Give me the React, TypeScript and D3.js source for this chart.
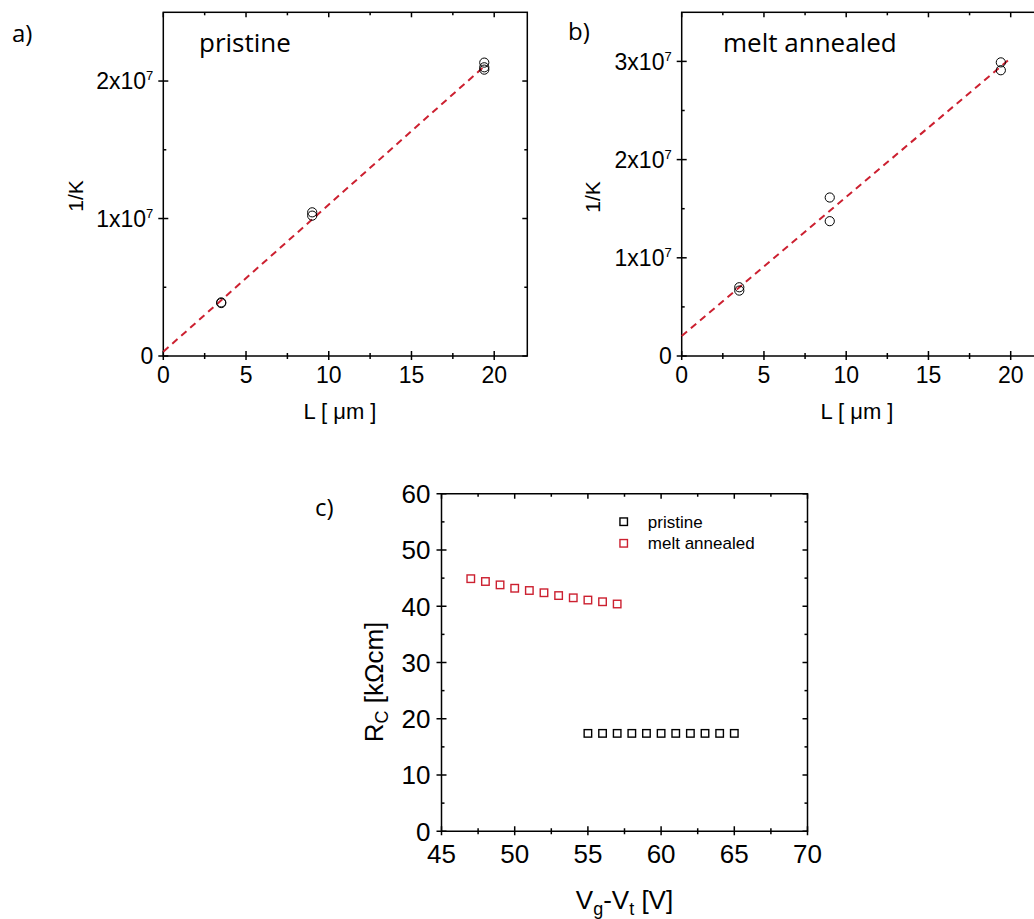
import React, { useEffect, useRef } from 'react';
import * as d3 from 'd3';

// panel a) pristine : 1/K versus channel length
const L_A = [3.5, 3.5, 9, 9, 19.4, 19.4, 19.4];
const K_A = [3.85e6, 3.9e6, 1.021e7, 1.045e7, 2.083e7, 2.1e7, 2.134e7];
const FIT_A = [0, 19.33];
const FIT_A_COEF = [3.1e5, 1.07e6]; // intercept, slope

// panel b) melt annealed
const L_B = [3.5, 3.5, 9, 9, 19.4, 19.4];
const K_B = [6.66e6, 7.0e6, 1.373e7, 1.614e7, 2.91e7, 2.99e7];
const FIT_B = [0, 19.9];
const FIT_B_COEF = [2.04e6, 1.415e6];

// panel c) contact resistance vs Vg-Vt
const VG_MELT = [47, 48, 49, 50, 51, 52, 53, 54, 55, 56, 57];
const RC_MELT = [44.9, 44.4, 43.8, 43.2, 42.8, 42.4, 41.9, 41.5, 41.1, 40.8, 40.4];
const VG_PRIS = [55, 56, 57, 58, 59, 60, 61, 62, 63, 64, 65];
const RC_PRIS = [17.4, 17.4, 17.4, 17.4, 17.4, 17.4, 17.4, 17.4, 17.4, 17.4, 17.4];

const X_TICKS_L = [0, 5, 10, 15, 20];
const Y_TICKS_A = [0, 1e7, 2e7];
const Y_TICKS_B = [0, 1e7, 2e7, 3e7];
const X_TICKS_C = [45, 50, 55, 60, 65, 70];
const Y_TICKS_C = [0, 10, 20, 30, 40, 50, 60];

const ARIAL = '"Liberation Sans", Arial, sans-serif';
const CAL = '"Open Sans", sans-serif';
const RED = '#cc2030';

function frame(g, x, y, xTicks, yTicks, xMinor, yMinor, fs, yLabelFmt) {
  const [x0, x1] = x.range();
  const [y0, y1] = y.range();
  g.append('rect')
    .attr('x', x0).attr('y', y1)
    .attr('width', x1 - x0).attr('height', y0 - y1)
    .attr('fill', 'none').attr('stroke', '#000').attr('stroke-width', 1.5);

  const tick = (x1_, y1_, x2_, y2_) =>
    g.append('line').attr('x1', x1_).attr('y1', y1_).attr('x2', x2_).attr('y2', y2_)
      .attr('stroke', '#000').attr('stroke-width', 1.5);

  xTicks.forEach(v => {
    const px = x(v);
    tick(px, y0 + 4, px, y0 - 5);
    tick(px, y1, px, y1 + 5);
  });
  xMinor.forEach(v => {
    const px = x(v);
    tick(px, y0 + 3, px, y0 - 3);
    tick(px, y1, px, y1 + 3);
  });
  yTicks.forEach(v => {
    const py = y(v);
    tick(x0 - 5, py, x0 + 5, py);
    tick(x1, py, x1 - 5, py);
  });
  yMinor.forEach(v => {
    const py = y(v);
    tick(x0, py, x0 + 3, py);
    tick(x1, py, x1 - 3, py);
  });

  g.selectAll(null).data(xTicks).enter().append('text')
    .attr('x', d => x(d))
    .attr('y', y0 + fs.xOff)
    .attr('text-anchor', 'middle')
    .attr('font-family', ARIAL)
    .attr('font-size', fs.size)
    .text(d => d);

  yTicks.forEach(v => {
    const t = g.append('text')
      .attr('x', x0 - fs.yGap)
      .attr('y', y(v) + fs.size * 0.36)
      .attr('text-anchor', 'end')
      .attr('font-family', ARIAL)
      .attr('font-size', fs.size);
    yLabelFmt(t, v);
  });
}

function sciLabel(t, v) {
  if (v === 0) { t.text('0'); return; }
  const m = Math.round(v / 1e7);
  t.append('tspan').text(m + 'x10');
  t.append('tspan').attr('font-size', 13).attr('dy', -9).text('7');
}

function plainLabel(t, v) {
  t.text(v);
}

function App() {
  const ref = useRef(null);

  useEffect(() => {
    const svg = d3.select(ref.current);
    svg.selectAll('*').remove();

    // ---------- a) ----------
    const xa = d3.scaleLinear().domain([0, 22]).range([163.3, 527.3]);
    const ya = d3.scaleLinear().domain([0, 2.5e7]).range([356, 12.3]);
    const ga = svg.append('g');
    frame(ga, xa, ya, X_TICKS_L, Y_TICKS_A, [2.5, 7.5, 12.5, 17.5], [0.5e7, 1.5e7],
      { size: 23, xOff: 26.5, yGap: 10 }, sciLabel);

    const lineA = d3.line().x(d => xa(d)).y(d => ya(FIT_A_COEF[0] + FIT_A_COEF[1] * d));
    ga.append('path').attr('d', lineA(FIT_A))
      .attr('fill', 'none').attr('stroke', RED).attr('stroke-width', 2)
      .attr('stroke-dasharray', '7,5');
    ga.selectAll('circle').data(L_A).enter().append('circle')
      .attr('cx', d => xa(d)).attr('cy', (d, i) => ya(K_A[i])).attr('r', 4.6)
      .attr('fill', 'none').attr('stroke', '#000').attr('stroke-width', 1);

    ga.append('text').attr('x', 12).attr('y', 42).attr('font-family', CAL).attr('font-size', 24).text('a)');
    ga.append('text').attr('x', 199).attr('y', 52).attr('font-family', CAL).attr('font-size', 26).text('pristine');
    ga.append('text').attr('transform', 'translate(83,196) rotate(-90)')
      .attr('text-anchor', 'middle').attr('font-family', ARIAL).attr('font-size', 21).text('1/K');
    ga.append('text').attr('x', 340).attr('y', 419).attr('text-anchor', 'middle')
      .attr('font-family', ARIAL).attr('font-size', 22).text('L [ μm ]');

    // ---------- b) ----------
    const xb = d3.scaleLinear().domain([0, 22]).range([681.7, 681.7 + 22 * 16.45]);
    const yb = d3.scaleLinear().domain([0, 3.5e7]).range([356, 12.3]);
    const gb = svg.append('g');
    frame(gb, xb, yb, X_TICKS_L, Y_TICKS_B, [2.5, 7.5, 12.5, 17.5], [0.5e7, 1.5e7, 2.5e7],
      { size: 23, xOff: 26.5, yGap: 10 }, sciLabel);

    const lineB = d3.line().x(d => xb(d)).y(d => yb(FIT_B_COEF[0] + FIT_B_COEF[1] * d));
    gb.append('path').attr('d', lineB(FIT_B))
      .attr('fill', 'none').attr('stroke', RED).attr('stroke-width', 2)
      .attr('stroke-dasharray', '7,5');
    gb.selectAll('circle').data(L_B).enter().append('circle')
      .attr('cx', d => xb(d)).attr('cy', (d, i) => yb(K_B[i])).attr('r', 4.6)
      .attr('fill', 'none').attr('stroke', '#000').attr('stroke-width', 1);

    gb.append('text').attr('x', 568).attr('y', 40).attr('font-family', CAL).attr('font-size', 24).text('b)');
    gb.append('text').attr('x', 723).attr('y', 52).attr('font-family', CAL).attr('font-size', 26).text('melt annealed');
    gb.append('text').attr('transform', 'translate(600,197) rotate(-90)')
      .attr('text-anchor', 'middle').attr('font-family', ARIAL).attr('font-size', 21).text('1/K');
    gb.append('text').attr('x', 857).attr('y', 419).attr('text-anchor', 'middle')
      .attr('font-family', ARIAL).attr('font-size', 22).text('L [ μm ]');

    // ---------- c) ----------
    const xc = d3.scaleLinear().domain([45, 70]).range([441.5, 807.5]);
    const yc = d3.scaleLinear().domain([0, 60]).range([831.25, 493.75]);
    const gc = svg.append('g');
    frame(gc, xc, yc, X_TICKS_C, Y_TICKS_C, [47.5, 52.5, 57.5, 62.5, 67.5], [5, 15, 25, 35, 45, 55],
      { size: 26, xOff: 32, yGap: 11 }, plainLabel);

    const sq = 7.5;
    gc.selectAll('rect.melt').data(VG_MELT).enter().append('rect')
      .attr('class', 'melt')
      .attr('x', d => xc(d) - sq / 2).attr('y', (d, i) => yc(RC_MELT[i]) - sq / 2)
      .attr('width', sq).attr('height', sq)
      .attr('fill', 'none').attr('stroke', RED).attr('stroke-width', 1.4);
    gc.selectAll('rect.pris').data(VG_PRIS).enter().append('rect')
      .attr('class', 'pris')
      .attr('x', d => xc(d) - sq / 2).attr('y', (d, i) => yc(RC_PRIS[i]) - sq / 2)
      .attr('width', sq).attr('height', sq)
      .attr('fill', 'none').attr('stroke', '#000').attr('stroke-width', 1.4);

    // legend
    const legend = [
      { label: 'pristine', color: '#000', y: 521.7 },
      { label: 'melt annealed', color: RED, y: 543.3 },
    ];
    legend.forEach(l => {
      gc.append('rect').attr('x', 623.7 - sq / 2).attr('y', l.y - sq / 2)
        .attr('width', sq).attr('height', sq)
        .attr('fill', 'none').attr('stroke', l.color).attr('stroke-width', 1.4);
      gc.append('text').attr('x', 647.8).attr('y', l.y + 6)
        .attr('font-family', ARIAL).attr('font-size', 17).text(l.label);
    });

    gc.append('text').attr('x', 315).attr('y', 516).attr('font-family', CAL).attr('font-size', 24).text('c)');

    const yl = gc.append('text').attr('transform', 'translate(383,682) rotate(-90)')
      .attr('text-anchor', 'middle').attr('font-family', ARIAL).attr('font-size', 26);
    yl.append('tspan').text('R');
    yl.append('tspan').attr('font-size', 18).attr('dy', 5).text('C');
    yl.append('tspan').attr('dy', -5).text(' [kΩcm]');

    const xl = gc.append('text').attr('x', 624.5).attr('y', 909)
      .attr('text-anchor', 'middle').attr('font-family', ARIAL).attr('font-size', 26);
    xl.append('tspan').text('V');
    xl.append('tspan').attr('font-size', 18).attr('dy', 6).text('g');
    xl.append('tspan').attr('dy', -6).text('-V');
    xl.append('tspan').attr('font-size', 18).attr('dy', 6).text('t');
    xl.append('tspan').attr('dy', -6).text(' [V]');
  }, []);

  return (
    <svg
      ref={ref}
      width={1034}
      height={919}
      style={{ position: 'absolute', left: 0, top: 0, background: '#fff' }}
    />
  );
}

export default App;
